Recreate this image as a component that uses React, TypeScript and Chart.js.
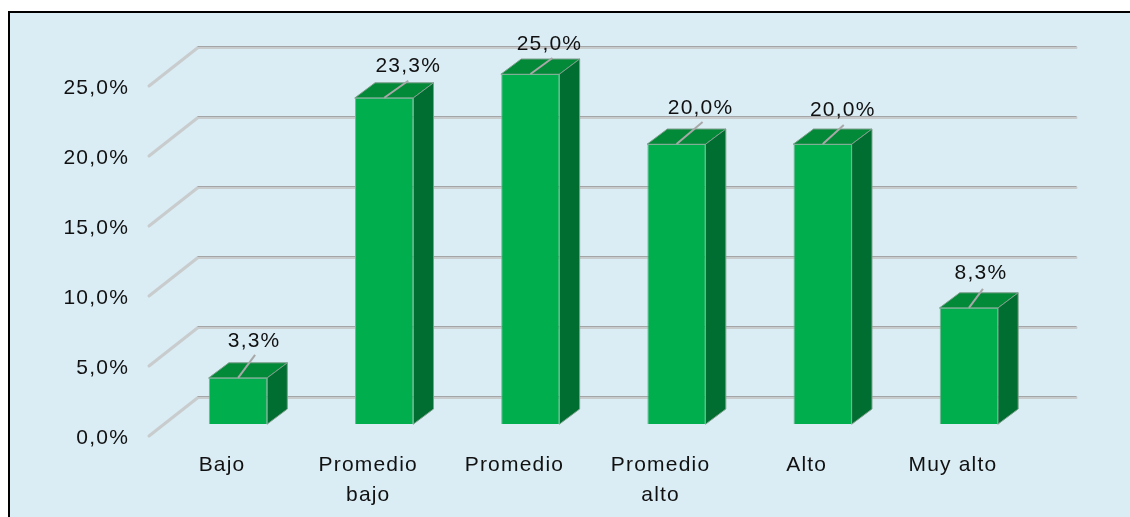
import React, { useEffect, useRef } from "react";
import { Chart, registerables } from "chart.js";

Chart.register(...registerables);

const categories: (string | string[])[] = ["Bajo", ["Promedio", "bajo"], "Promedio", ["Promedio", "alto"], "Alto", "Muy alto"];
const values = [3.3, 23.3, 25.0, 20.0, 20.0, 8.3];
const labelDx = [16, 24, 19, 24, 20, 12];
const labelDy = [-37, -32, -30, -36, -34, -35];
const leaderDx = [17, 24, 22, 26, 21, 14];
const leaderDy = [-23, -17, -16, -22, -19, -19];

const FAMILY = '"Liberation Sans", Arial, sans-serif';
const SIZE = 21;
const FONT = `${SIZE}px ${FAMILY}`;
const TEXT = "#111111";
const SPACING = "1.2px";

const fmt = (v: number) => v.toFixed(1).replace(".", ",") + "%";

const scene = {
  id: "scene",
  beforeDraw(chart: any) {
    const { ctx, width, height } = chart;
    ctx.save();
    ctx.fillStyle = "#ffffff";
    ctx.fillRect(0, 0, width, height);
    ctx.fillStyle = "#daecf4";
    ctx.fillRect(8, 11, width - 8, height - 11);
    ctx.fillStyle = "#000000";
    ctx.fillRect(8, 11, width - 8, 2);
    ctx.fillRect(8, 11, 2, height - 11);
    ctx.restore();
    ctx.letterSpacing = SPACING;
  },
  beforeDatasetsDraw(chart: any) {
    const { ctx, chartArea, scales } = chart;
    const y = scales.y;
    const backX0 = chartArea.left + 33;
    const backX1 = chartArea.right + 34;
    ctx.save();
    ctx.lineCap = "round";
    ctx.lineJoin = "round";
    y.ticks.forEach((t: any) => {
      const py = y.getPixelForValue(t.value);
      const by = py - 27;
      ctx.strokeStyle = "#c9cccd";
      ctx.lineWidth = 3;
      ctx.beginPath();
      ctx.moveTo(chartArea.left - 16, py + 12);
      ctx.lineTo(backX0, by + 0.5);
      ctx.lineTo(backX1, by + 0.5);
      ctx.stroke();
      ctx.strokeStyle = "#a3a5a6";
      ctx.lineWidth = 1;
      ctx.beginPath();
      ctx.moveTo(backX0, by - 0.5);
      ctx.lineTo(backX1, by - 0.5);
      ctx.stroke();
    });
    const meta = chart.getDatasetMeta(0);
    meta.data.forEach((bar: any) => {
      const { x, y: top, base, width } = bar.getProps(["x", "y", "base", "width"], true);
      const l = x - width / 2;
      const r = x + width / 2;
      const dx = 20;
      const dy = -15;
      ctx.lineWidth = 1;
      ctx.strokeStyle = "#7f9f8c";
      ctx.fillStyle = "#028a38";
      ctx.beginPath();
      ctx.moveTo(l, top);
      ctx.lineTo(l + dx, top + dy);
      ctx.lineTo(r + dx, top + dy);
      ctx.lineTo(r, top);
      ctx.closePath();
      ctx.fill();
      ctx.stroke();
      ctx.fillStyle = "#016e31";
      ctx.beginPath();
      ctx.moveTo(r, top);
      ctx.lineTo(r + dx, top + dy);
      ctx.lineTo(r + dx, base + dy);
      ctx.lineTo(r, base);
      ctx.closePath();
      ctx.fill();
      ctx.stroke();
    });
    ctx.restore();
  },
  afterDatasetsDraw(chart: any) {
    const { ctx } = chart;
    const meta = chart.getDatasetMeta(0);
    ctx.save();
    ctx.font = FONT;
    ctx.fillStyle = TEXT;
    ctx.textAlign = "center";
    ctx.textBaseline = "middle";
    ctx.letterSpacing = SPACING;
    meta.data.forEach((bar: any, i: number) => {
      const { x, y: top } = bar.getProps(["x", "y"], true);
      ctx.strokeStyle = "#a8a8a8";
      ctx.lineWidth = 2;
      ctx.beginPath();
      ctx.moveTo(x, top);
      ctx.lineTo(x + leaderDx[i], top + leaderDy[i]);
      ctx.stroke();
      ctx.fillText(fmt(values[i]), x + labelDx[i], top + labelDy[i]);
    });
    ctx.restore();
  },
};

export default function App() {
  const ref = useRef<HTMLCanvasElement>(null);
  useEffect(() => {
    const chart = new Chart(ref.current!, {
      type: "bar",
      data: {
        labels: categories as any,
        datasets: [
          {
            data: values,
            backgroundColor: "#00ae4d",
            borderColor: "#7fb096",
            borderWidth: 1,
            barPercentage: 0.4,
            categoryPercentage: 1,
          },
        ],
      },
      options: {
        animation: false,
        responsive: false,
        devicePixelRatio: 1,
        layout: { padding: { top: 74, right: 88, left: 0, bottom: 0 } },
        plugins: { legend: { display: false }, tooltip: { enabled: false }, title: { display: false } },
        scales: {
          x: {
            grid: { display: false, drawTicks: false },
            border: { display: false },
            afterFit(s: any) {
              s.height = 93;
            },
            ticks: {
              autoSkip: false,
              maxRotation: 0,
              minRotation: 0,
              padding: 27,
              labelOffset: -16,
              color: TEXT,
              font: { family: FAMILY, size: SIZE, lineHeight: 1.4 },
            },
          },
          y: {
            min: 0,
            max: 25,
            grid: { display: false, drawTicks: false },
            border: { display: false },
            afterFit(s: any) {
              s.width = 165;
            },
            ticks: {
              stepSize: 5,
              padding: 36,
              labelOffset: 14,
              color: TEXT,
              font: { family: FAMILY, size: SIZE },
              callback: (v: any) => fmt(Number(v)),
            },
          },
        },
      },
      plugins: [scene],
    } as any);
    return () => chart.destroy();
  }, []);
  return (
    <div style={{ position: "fixed", left: 0, top: 0, width: 1130, height: 517 }}>
      <canvas ref={ref} width={1130} height={517} style={{ display: "block" }} />
    </div>
  );
}
